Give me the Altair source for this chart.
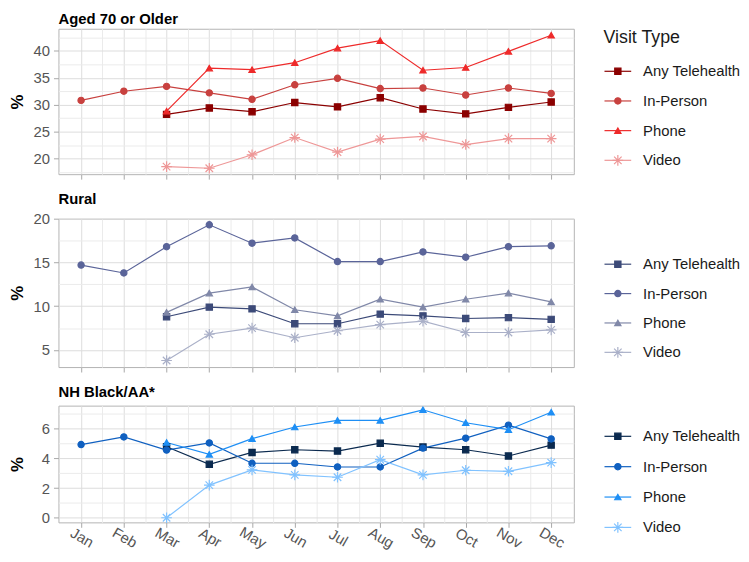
import json
import altair as alt
import pandas as pd

# ---------------- data ----------------
months = ["Jan", "Feb", "Mar", "Apr", "May", "Jun", "Jul", "Aug", "Sep", "Oct", "Nov", "Dec"]
types = ["Any Telehealth", "In-Person", "Phone", "Video"]

# Aged 70 or Older
aged_any = [None, None, 28.2, 29.4, 28.7, 30.4, 29.6, 31.3, 29.2, 28.3, 29.5, 30.5]
aged_inp = [30.8, 32.5, 33.4, 32.2, 31.0, 33.7, 34.9, 33.0, 33.1, 31.8, 33.1, 32.1]
aged_phone = [None, None, 28.8, 36.8, 36.5, 37.8, 40.5, 41.9, 36.4, 36.9, 39.9, 42.9]
aged_video = [None, None, 18.5, 18.2, 20.7, 23.9, 21.2, 23.6, 24.1, 22.6, 23.7, 23.7]

# Rural
rural_any = [None, None, 8.8, 9.9, 9.7, 8.0, 8.0, 9.1, 8.9, 8.6, 8.7, 8.5]
rural_inp = [14.7, 13.8, 16.8, 19.3, 17.2, 17.8, 15.1, 15.1, 16.2, 15.6, 16.8, 16.9]
rural_phone = [None, None, 9.3, 11.5, 12.2, 9.6, 8.9, 10.8, 9.9, 10.8, 11.5, 10.5]
rural_video = [None, None, 3.8, 6.8, 7.5, 6.4, 7.2, 7.9, 8.3, 7.0, 7.0, 7.3]

# NH Black/AA*
black_any = [None, None, 4.78, 3.6, 4.4, 4.58, 4.49, 5.02, 4.76, 4.58, 4.16, 4.89]
black_inp = [4.93, 5.44, 4.56, 5.04, 3.67, 3.67, 3.42, 3.42, 4.69, 5.36, 6.24, 5.31]
black_phone = [None, None, 5.07, 4.27, 5.33, 6.11, 6.56, 6.56, 7.27, 6.4, 5.93, 7.11]
black_video = [None, None, 0.0, 2.2, 3.22, 2.89, 2.73, 3.91, 2.89, 3.2, 3.13, 3.71]

aged_colors = ["#8B0000", "#C8413F", "#EE2A2A", "#EE9797"]
rural_colors = ["#3C4A78", "#5A6499", "#8088A8", "#AAB0C8"]
black_colors = ["#0B2A4F", "#1060C0", "#1E8FF5", "#80C2FF"]

ASTERISK = "M-1.7,0L1.7,0M0,-1.7L0,1.7M-1.2,-1.2L1.2,1.2M-1.2,1.2L1.2,-1.2"
shapes = ["square", "circle", "triangle-up", ASTERISK]

FONT = "Liberation Sans"
PLOT_W = 521


def long_df(series):
    rows = []
    for t, vals in zip(types, series):
        for i, v in enumerate(vals):
            if v is not None:
                rows.append({"month": i + 1, "type": t, "value": v})
    return pd.DataFrame(rows)


def cond(test, a, b):
    return {"condition": {"test": test, "value": a}, "value": b}


def panel(title, series, colors, ydom, ystep, height, show_x, leg_a, leg_b, leg_title, title_offset):
    df = long_df(series)
    cscale = alt.Scale(domain=types, range=colors)
    sscale = alt.Scale(domain=types, range=shapes)

    half = ystep / 2.0
    lo = ydom[0]
    start = (int(lo // half) + 1) * half
    yvals = []
    v = start
    while v <= ydom[1] + 1e-9:
        yvals.append(round(v, 3))
        v += half
    major_test = f"abs(datum.value / {ystep} - round(datum.value / {ystep})) < 0.001"

    xvals = [m for m in range(1, 13)] + [m + 0.5 for m in range(1, 12)]
    x_test = "datum.value % 1 === 0"
    x_axis = alt.Axis(
        values=xvals,
        title=None,
        domain=False,
        grid=True,
        gridColor=cond(x_test, "#DDDDDD", "#EBEBEB"),
        gridWidth=1,
        tickColor="#A8A8A8",
        tickSize=5,
        tickOpacity=cond(x_test, 1, 0),
        labels=show_x,
        labelExpr=f"datum.value % 1 === 0 ? {json.dumps(months)}[datum.value - 1] : ''",
        labelAngle=30,
        labelAlign="center",
        labelBaseline="top",
        labelPadding=4,
        labelOffset=4,
        labelFontSize=15,
        labelColor="#555555",
        labelFont=FONT,
    )
    y_axis = alt.Axis(
        values=yvals,
        title="%",
        titleFont=FONT,
        titleFontSize=17,
        titleFontWeight="bold",
        titleColor="#000000",
        titlePadding=5,
        domain=False,
        grid=True,
        gridColor=cond(major_test, "#DDDDDD", "#EBEBEB"),
        gridWidth=1,
        tickColor="#A8A8A8",
        tickSize=5,
        tickOpacity=cond(major_test, 1, 0),
        labelExpr=f"{major_test} ? datum.label : ''",
        labelPadding=4,
        labelFontSize=15,
        labelColor="#555555",
        labelFont=FONT,
        minExtent=27,
        maxExtent=27,
    )

    x = alt.X("month:Q", scale=alt.Scale(domain=[0.47, 12.53], nice=False, zero=False), axis=x_axis)
    y = alt.Y("value:Q", scale=alt.Scale(domain=ydom, nice=False, zero=False), axis=y_axis)
    color = alt.Color("type:N", scale=cscale, legend=None)
    stroke = alt.Stroke("type:N", scale=cscale, legend=None)
    shape = alt.Shape("type:N", scale=sscale, legend=None)

    base = alt.Chart(df)
    lines = base.mark_line(strokeWidth=1.2).encode(x=x, y=y, color=color, detail="type:N", order="month:Q")
    pts = base.mark_point(filled=True, opacity=1, strokeWidth=1.2, size=40).encode(
        x=x, y=y, color=color, stroke=stroke, shape=shape
    )
    data_layer = alt.layer(lines, pts)

    ldf = pd.DataFrame({"type": types, "slot": [0, 1, 2, 3]})
    ly = alt.Y("slot:Q", scale=alt.Scale(domain=[leg_a, leg_b], reverse=True, nice=False, zero=False), axis=None)
    lbase = alt.Chart(ldf)
    lrule = lbase.mark_rule(strokeWidth=1.2).encode(
        x=alt.value(552), x2=alt.value(579), y=ly, color=color
    )
    lpt = lbase.mark_point(filled=True, opacity=1, strokeWidth=1.2, size=40).encode(
        x=alt.value(565.5), y=ly, color=color, stroke=stroke, shape=shape
    )
    ltxt = lbase.mark_text(align="left", baseline="middle", fontSize=15, font=FONT, color="#1A1A1A").encode(
        x=alt.value(591), y=ly, text="type:N"
    )
    leg_layers = [lrule, lpt, ltxt]
    if leg_title:
        tdf = pd.DataFrame({"slot": [-1.13], "t": [leg_title]})
        ltitle = alt.Chart(tdf).mark_text(
            align="left", baseline="middle", fontSize=18, font=FONT, color="#1A1A1A"
        ).encode(x=alt.value(551), y=ly, text="t:N")
        leg_layers.append(ltitle)
    leg_layer = alt.layer(*leg_layers)

    return alt.layer(data_layer, leg_layer).resolve_scale(y="independent").properties(
        width=PLOT_W,
        height=height,
        title=alt.TitleParams(
            text=title, anchor="start", frame="group", fontSize=15, fontWeight="bold",
            font=FONT, color="#000000", offset=title_offset,
        ),
    )


p1 = panel("Aged 70 or Older", [aged_any, aged_inp, aged_phone, aged_video], aged_colors,
           [17.1, 44.1], 5, 147, False, -1.433, 3.467, "Visit Type", 2)
p2 = panel("Rural", [rural_any, rural_inp, rural_phone, rural_video], rural_colors,
           [3.05, 20.0], 5, 150, False, -1.549, 3.501, None, 5)
p3 = panel("NH Black/AA*", [black_any, black_inp, black_phone, black_video], black_colors,
           [-0.31, 7.55], 2, 118, True, -1.01, 2.834, None, 5)

chart = (
    alt.vconcat(p1, p2, p3, spacing=11)
    .resolve_scale(x="independent", y="independent", color="independent",
                   stroke="independent", shape="independent")
    .properties(padding={"left": 0, "top": 0, "right": 0, "bottom": 0}, background="white")
    .configure_view(stroke="#B3B3B3", strokeWidth=1)
)

chart.save("out.html", embed_options={"renderer": "svg", "actions": False})
